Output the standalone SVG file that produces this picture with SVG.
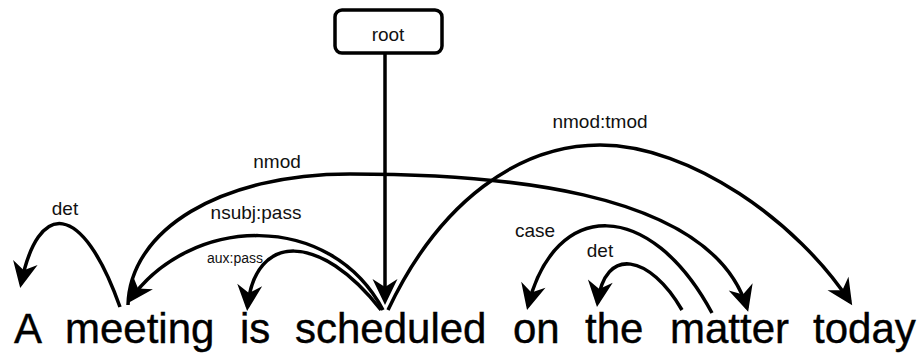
<svg xmlns="http://www.w3.org/2000/svg" width="920" height="353" viewBox="0 0 920 353">
  <style>
    .word { font-family: "Liberation Sans", Arial, sans-serif; font-size: 42px; fill: #000; stroke: #000; stroke-width: 0.4; }
    .lbl { font-family: "Liberation Sans", Arial, sans-serif; font-size: 19px; fill: #111; text-anchor: middle; }
    .small { font-size: 14px; }
    .arc { fill: none; stroke: #000; stroke-width: 3.5; marker-end: url(#arrow); }
    .box { fill: #fff; stroke: #000; stroke-width: 3.5; }
  </style>
  <defs>
    <marker id="arrow" markerUnits="userSpaceOnUse" markerWidth="32" markerHeight="32" viewBox="-27 -16 32 32" refX="0" refY="0" orient="auto">
      <path d="M4,0 L-22,-12.5 L-14,0 L-22,12.5 Z" fill="#000"/>
    </marker>
  </defs>
  <rect width="920" height="353" fill="#fff"/>

  <g id="connectors">
    <path class="arc" d="M385,53 L385,301"/>
    <path class="arc" d="M120,307 C82,200 38,200 21,284"/>
    <path class="arc" d="M383,310 C330,210 190,215 130,300"/>
    <path class="arc" d="M381,310 C320,232 255,232 247.5,307"/>
    <path class="arc" d="M128,305 C130,230 220,174 350,174 C480,174 710,185 747,308"/>
    <path class="arc" d="M388,310 C440,200 520,145 600,145 C690,145 798,222 850,302"/>
    <path class="arc" d="M712,313 C650,198 555,198 528,306"/>
    <path class="arc" d="M682,310 C650,255 605,245 597.5,303"/>
    <text class="lbl" x="65" y="215">det</text>
    <text class="lbl" x="256" y="219">nsubj:pass</text>
    <text class="lbl small" x="235" y="263">aux:pass</text>
    <text class="lbl" x="277" y="168">nmod</text>
    <text class="lbl" x="600" y="128">nmod:tmod</text>
    <text class="lbl" x="535" y="237">case</text>
    <text class="lbl" x="600" y="257">det</text>
  </g>

  <g id="root">
    <rect class="box" x="335" y="10" width="107" height="43" rx="7"/>
    <text class="lbl" x="388" y="41">root</text>
  </g>

  <g id="w-A"><text class="word" x="14" y="343">A</text></g>
  <g id="w-meeting"><text class="word" x="65" y="343">meeting</text></g>
  <g id="w-is"><text class="word" x="240" y="343">is</text></g>
  <g id="w-scheduled"><text class="word" x="295" y="343">scheduled</text></g>
  <g id="w-on"><text class="word" x="513" y="343">on</text></g>
  <g id="w-the"><text class="word" x="585" y="343">the</text></g>
  <g id="w-matter"><text class="word" x="670" y="343">matter</text></g>
  <g id="w-today"><text class="word" x="813" y="343">today</text></g>
</svg>
